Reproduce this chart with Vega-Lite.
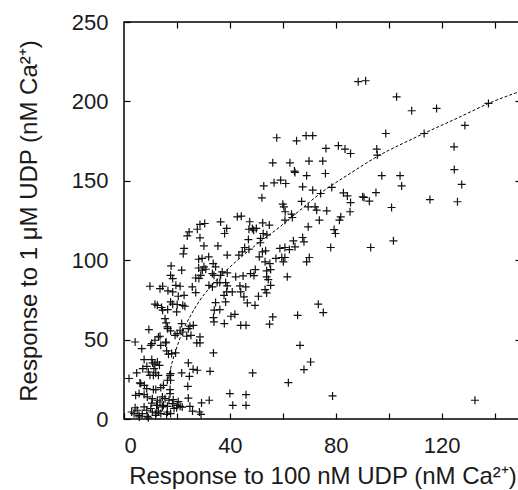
{
  "$schema": "https://vega.github.io/schema/vega-lite/v6.json",
  "width": 397,
  "height": 397,
  "autosize": {"type": "none"},
  "padding": {"left": 124, "top": 22, "right": 0, "bottom": 71},
  "background": "white",
  "config": {
    "view": {"stroke": "#000", "strokeWidth": 1.5},
    "font": "Liberation Sans",
    "axis": {
      "domain": false,
      "grid": false,
      "ticks": true,
      "tickSize": -6,
      "tickColor": "#000",
      "tickWidth": 1.2,
      "labelFont": "Liberation Sans",
      "labelFontSize": 22,
      "labelColor": "#1a1a1a",
      "titleFont": "Liberation Sans",
      "titleFontSize": 24,
      "titleFontWeight": "normal",
      "titleColor": "#1a1a1a"
    }
  },
  "layer": [
    {
      "data": {"values": [
        {"r100":88.5,"r1u":212.4},{"r100":91.3,"r1u":213.0},{"r100":103.0,"r1u":202.9},{"r100":108.7,"r1u":194.1},{"r100":118.1,"r1u":195.6},{"r100":137.7,"r1u":198.7},{"r100":128.8,"r1u":184.9},{"r100":98.9,"r1u":179.8},{"r100":113.4,"r1u":179.8},{"r100":57.7,"r1u":177.1},{"r100":68.8,"r1u":178.4},{"r100":71.3,"r1u":178.4},{"r100":65.2,"r1u":175.2},{"r100":76.3,"r1u":170.4},{"r100":81.0,"r1u":172.1},{"r100":83.5,"r1u":170.0},{"r100":85.6,"r1u":167.2},{"r100":95.5,"r1u":170.0},{"r100":95.7,"r1u":166.2},{"r100":124.7,"r1u":171.4},
        {"r100":56.2,"r1u":161.3},{"r100":62.7,"r1u":161.3},{"r100":69.9,"r1u":162.4},{"r100":75.1,"r1u":162.4},{"r100":64.4,"r1u":156.1},{"r100":64.6,"r1u":155.3},{"r100":76.1,"r1u":154.6},{"r100":69.0,"r1u":153.2},{"r100":97.4,"r1u":153.2},{"r100":104.3,"r1u":153.2},{"r100":124.8,"r1u":157.1},{"r100":52.8,"r1u":146.8},{"r100":56.7,"r1u":148.7},{"r100":59.2,"r1u":150.4},{"r100":61.1,"r1u":148.3},{"r100":67.5,"r1u":146.2},{"r100":71.3,"r1u":144.1},{"r100":74.3,"r1u":142.0},{"r100":78.5,"r1u":145.8},{"r100":82.9,"r1u":142.4},
        {"r100":84.4,"r1u":140.5},{"r100":90.2,"r1u":139.9},{"r100":90.7,"r1u":139.5},{"r100":92.7,"r1u":137.2},{"r100":95.2,"r1u":142.6},{"r100":104.9,"r1u":146.8},{"r100":101.1,"r1u":133.2},{"r100":115.6,"r1u":138.2},{"r100":127.6,"r1u":147.7},{"r100":126.0,"r1u":136.8},{"r100":52.1,"r1u":139.3},{"r100":60.0,"r1u":135.3},{"r100":60.4,"r1u":133.6},{"r100":60.9,"r1u":130.5},{"r100":67.1,"r1u":137.0},{"r100":69.6,"r1u":133.6},{"r100":72.2,"r1u":133.6},{"r100":72.8,"r1u":131.5},{"r100":76.6,"r1u":131.1},{"r100":85.6,"r1u":136.3},
        {"r100":85.4,"r1u":130.5},{"r100":81.9,"r1u":127.3},{"r100":81.4,"r1u":125.2},{"r100":60.8,"r1u":125.2},{"r100":63.3,"r1u":129.0},{"r100":63.6,"r1u":126.9},{"r100":73.8,"r1u":125.2},{"r100":69.6,"r1u":121.0},{"r100":79.4,"r1u":119.3},{"r100":79.9,"r1u":116.8},{"r100":93.2,"r1u":108.0},{"r100":101.8,"r1u":112.2},{"r100":78.1,"r1u":108.0},{"r100":67.5,"r1u":114.3},{"r100":68.0,"r1u":111.6},{"r100":64.0,"r1u":112.2},{"r100":64.6,"r1u":108.4},{"r100":62.5,"r1u":106.7},{"r100":60.8,"r1u":108.0},{"r100":58.9,"r1u":107.4},
        {"r100":60.8,"r1u":101.7},{"r100":60.2,"r1u":99.0},{"r100":59.6,"r1u":101.7},{"r100":57.4,"r1u":101.1},{"r100":55.1,"r1u":97.9},{"r100":69.0,"r1u":99.0},{"r100":70.0,"r1u":101.7},{"r100":61.7,"r1u":89.5},{"r100":73.4,"r1u":72.3},{"r100":75.3,"r1u":67.0},{"r100":65.6,"r1u":65.3},{"r100":66.5,"r1u":46.4},{"r100":70.5,"r1u":35.9},{"r100":68.0,"r1u":31.1},{"r100":62.1,"r1u":22.9},{"r100":78.8,"r1u":14.5},{"r100":132.6,"r1u":11.8},
        {"r100":42.8,"r1u":127.3},{"r100":44.3,"r1u":127.7},{"r100":36.5,"r1u":124.1},{"r100":30.5,"r1u":123.1},{"r100":28.7,"r1u":122.5},{"r100":27.7,"r1u":119.5},{"r100":24.6,"r1u":117.8},{"r100":23.9,"r1u":115.3},{"r100":28.7,"r1u":114.1},{"r100":38.8,"r1u":120.0},{"r100":38.0,"r1u":116.8},{"r100":47.2,"r1u":119.5},{"r100":48.5,"r1u":120.0},{"r100":47.5,"r1u":124.2},{"r100":30.2,"r1u":109.0},{"r100":35.5,"r1u":109.0},{"r100":45.6,"r1u":108.0},{"r100":44.7,"r1u":105.2},{"r100":43.4,"r1u":103.2},{"r100":47.2,"r1u":106.9},
        {"r100":39.0,"r1u":103.2},{"r100":28.2,"r1u":100.6},{"r100":29.5,"r1u":101.1},{"r100":32.0,"r1u":102.1},{"r100":28.2,"r1u":95.1},{"r100":30.2,"r1u":95.8},{"r100":30.9,"r1u":94.3},{"r100":33.7,"r1u":97.9},{"r100":34.6,"r1u":95.8},{"r100":33.4,"r1u":91.6},{"r100":34.0,"r1u":90.5},{"r100":29.6,"r1u":93.7},{"r100":29.0,"r1u":90.5},{"r100":37.1,"r1u":92.6},{"r100":36.5,"r1u":90.5},{"r100":39.0,"r1u":92.0},{"r100":42.2,"r1u":89.5},{"r100":45.0,"r1u":90.1},{"r100":47.8,"r1u":91.6},{"r100":27.1,"r1u":88.8},
        {"r100":28.3,"r1u":88.5},{"r100":25.8,"r1u":83.2},{"r100":27.1,"r1u":79.6},{"r100":32.1,"r1u":84.2},{"r100":35.2,"r1u":85.9},{"r100":36.2,"r1u":85.9},{"r100":33.4,"r1u":83.2},{"r100":38.4,"r1u":85.9},{"r100":39.0,"r1u":83.8},{"r100":40.9,"r1u":80.0},{"r100":38.8,"r1u":80.0},{"r100":37.8,"r1u":77.9},{"r100":43.8,"r1u":83.8},{"r100":46.0,"r1u":83.2},{"r100":44.1,"r1u":80.0},{"r100":34.6,"r1u":73.3},{"r100":38.4,"r1u":73.7},{"r100":45.3,"r1u":76.9},{"r100":46.6,"r1u":73.1},{"r100":47.0,"r1u":113.0},
        {"r100":49.0,"r1u":118.9},{"r100":50.0,"r1u":120.0},{"r100":52.4,"r1u":123.5},{"r100":54.9,"r1u":122.1},{"r100":52.6,"r1u":116.8},{"r100":51.6,"r1u":113.7},{"r100":54.0,"r1u":116.0},{"r100":51.5,"r1u":111.0},{"r100":52.3,"r1u":105.3},{"r100":53.5,"r1u":105.9},{"r100":51.1,"r1u":102.1},{"r100":53.3,"r1u":99.0},{"r100":55.4,"r1u":94.1},{"r100":53.9,"r1u":93.3},{"r100":49.6,"r1u":94.1},{"r100":49.1,"r1u":90.3},{"r100":53.9,"r1u":89.5},{"r100":54.5,"r1u":87.8},{"r100":55.4,"r1u":84.2},{"r100":53.3,"r1u":81.5},
        {"r100":53.9,"r1u":79.4},{"r100":50.8,"r1u":77.3},{"r100":49.5,"r1u":71.6},{"r100":56.2,"r1u":64.3},{"r100":55.0,"r1u":59.7},
        {"r100":36.2,"r1u":68.9},{"r100":34.1,"r1u":68.5},{"r100":33.8,"r1u":63.9},{"r100":34.0,"r1u":61.1},{"r100":37.9,"r1u":60.1},{"r100":33.8,"r1u":41.6},{"r100":32.5,"r1u":30.0},{"r100":32.2,"r1u":11.8},{"r100":44.1,"r1u":59.0},{"r100":46.1,"r1u":59.0},{"r100":40.4,"r1u":64.7},{"r100":41.9,"r1u":65.9},{"r100":40.0,"r1u":16.0},{"r100":41.1,"r1u":8.6},{"r100":46.1,"r1u":15.3},{"r100":46.1,"r1u":8.6},{"r100":48.6,"r1u":29.0},
        {"r100":21.8,"r1u":60.1},{"r100":21.2,"r1u":55.9},{"r100":22.2,"r1u":54.8},{"r100":24.3,"r1u":56.9},{"r100":24.9,"r1u":58.4},{"r100":26.2,"r1u":59.0},{"r100":23.7,"r1u":52.1},{"r100":25.3,"r1u":52.7},{"r100":28.7,"r1u":51.7},{"r100":27.5,"r1u":47.9},{"r100":28.7,"r1u":47.9},{"r100":24.3,"r1u":35.3},{"r100":26.1,"r1u":31.3},{"r100":27.7,"r1u":30.7},{"r100":21.8,"r1u":29.0},{"r100":24.7,"r1u":26.9},{"r100":24.1,"r1u":20.6},{"r100":24.3,"r1u":13.2},{"r100":24.9,"r1u":8.0},{"r100":25.9,"r1u":5.0},
        {"r100":29.3,"r1u":10.1},{"r100":28.5,"r1u":4.4},{"r100":29.1,"r1u":2.9},{"r100":19.9,"r1u":67.4},{"r100":22.2,"r1u":71.6},{"r100":23.0,"r1u":71.0},
        {"r100":1.9,"r1u":25.5},{"r100":4.4,"r1u":14.9},{"r100":5.7,"r1u":16.0},{"r100":7.6,"r1u":15.4},{"r100":8.8,"r1u":13.9},{"r100":10.7,"r1u":12.8},{"r100":12.6,"r1u":11.8},{"r100":14.5,"r1u":13.9},{"r100":17.0,"r1u":11.8},{"r100":18.3,"r1u":9.7},{"r100":20.1,"r1u":8.6},{"r100":21.2,"r1u":8.0},{"r100":18.9,"r1u":6.6},{"r100":16.4,"r1u":8.0},{"r100":14.5,"r1u":7.6},{"r100":12.6,"r1u":8.6},{"r100":10.1,"r1u":6.6},{"r100":7.6,"r1u":7.6},{"r100":5.0,"r1u":5.5},{"r100":3.8,"r1u":3.4},
        {"r100":5.7,"r1u":2.3},{"r100":6.9,"r1u":3.4},{"r100":8.8,"r1u":1.7},{"r100":10.7,"r1u":4.4},{"r100":12.0,"r1u":2.3},{"r100":13.9,"r1u":3.4},{"r100":16.4,"r1u":4.4},{"r100":17.6,"r1u":3.4},{"r100":4.2,"r1u":7.1},{"r100":8.6,"r1u":5.5},{"r100":9.2,"r1u":0.8},{"r100":5.8,"r1u":1.3},{"r100":2.9,"r1u":4.4},{"r100":6.0,"r1u":22.7},{"r100":7.7,"r1u":21.2},{"r100":8.6,"r1u":19.1},{"r100":11.1,"r1u":18.5},{"r100":14.9,"r1u":21.2},{"r100":17.4,"r1u":18.5},{"r100":17.4,"r1u":16.0},
        {"r100":15.5,"r1u":12.8},{"r100":18.6,"r1u":12.2},{"r100":13.6,"r1u":10.7},{"r100":12.3,"r1u":8.6},{"r100":14.9,"r1u":8.6},{"r100":19.9,"r1u":7.1},{"r100":13.0,"r1u":5.0},{"r100":16.1,"r1u":2.9},{"r100":12.1,"r1u":3.8},{"r100":6.3,"r1u":22.3},{"r100":12.0,"r1u":18.5},{"r100":13.9,"r1u":19.8},{"r100":16.4,"r1u":24.4},{"r100":17.6,"r1u":24.4},{"r100":10.5,"r1u":10.0},{"r100":20.5,"r1u":11.0},{"r100":22.0,"r1u":7.5},
        {"r100":4.2,"r1u":48.5},{"r100":6.7,"r1u":44.3},{"r100":9.4,"r1u":56.3},{"r100":9.8,"r1u":83.6},{"r100":10.5,"r1u":47.5},{"r100":11.7,"r1u":49.6},{"r100":7.6,"r1u":37.4},{"r100":4.8,"r1u":29.0},{"r100":7.1,"r1u":31.7},{"r100":8.6,"r1u":33.2},{"r100":9.2,"r1u":29.6},{"r100":10.5,"r1u":37.4},{"r100":10.8,"r1u":35.3},{"r100":9.8,"r1u":27.5},{"r100":11.7,"r1u":34.5},{"r100":13.4,"r1u":33.8},{"r100":11.3,"r1u":31.7},{"r100":11.1,"r1u":27.5},{"r100":13.0,"r1u":27.5},{"r100":17.6,"r1u":28.6},
        {"r100":12.6,"r1u":35.9},{"r100":12.0,"r1u":29.0},{"r100":17.4,"r1u":27.5},{"r100":13.0,"r1u":51.7},{"r100":13.9,"r1u":46.4},{"r100":15.9,"r1u":48.5},{"r100":16.1,"r1u":42.9},{"r100":16.8,"r1u":40.8},{"r100":18.0,"r1u":41.2},{"r100":19.5,"r1u":41.6},{"r100":15.5,"r1u":63.2},{"r100":15.9,"r1u":60.5},{"r100":16.5,"r1u":56.9},{"r100":17.6,"r1u":55.5},{"r100":19.3,"r1u":52.7},{"r100":20.1,"r1u":53.8},{"r100":16.4,"r1u":58.0},{"r100":10.1,"r1u":46.4},{"r100":13.6,"r1u":52.1},{"r100":15.7,"r1u":47.9},
        {"r100":11.7,"r1u":72.3},{"r100":12.6,"r1u":71.6},{"r100":14.2,"r1u":70.2},{"r100":14.6,"r1u":68.5},{"r100":16.5,"r1u":68.9},{"r100":17.6,"r1u":73.7},{"r100":18.4,"r1u":72.3},{"r100":20.1,"r1u":72.1},{"r100":14.6,"r1u":83.6},{"r100":13.6,"r1u":82.1},{"r100":16.6,"r1u":80.7},{"r100":18.4,"r1u":80.0},{"r100":17.8,"r1u":96.4},{"r100":17.6,"r1u":90.5},{"r100":18.4,"r1u":88.4},{"r100":19.6,"r1u":84.2},{"r100":21.2,"r1u":83.6},{"r100":20.5,"r1u":77.3},{"r100":22.7,"r1u":77.9},{"r100":21.8,"r1u":93.7},
        {"r100":22.7,"r1u":107.4},{"r100":22.4,"r1u":104.0}
      ]},
      "mark": {"type": "point", "shape": "M-1,0H1M0,-1V1", "size": 64, "filled": false, "stroke": "#111", "strokeWidth": 1.2, "opacity": 1},
      "encoding": {
        "x": {"field": "r100", "type": "quantitative", "scale": {"domain": [0, 150], "nice": false},
          "axis": {"orient": "bottom", "values": [0, 20, 40, 60, 80, 100, 120, 140], "labelExpr": "datum.value % 40 === 0 ? datum.label : ''", "labelPadding": 22, "title": "Response to 100 nM UDP (nM Ca²⁺)", "titlePadding": 8}},
        "y": {"field": "r1u", "type": "quantitative", "scale": {"domain": [0, 250], "nice": false},
          "axis": {"orient": "left", "values": [0, 50, 100, 150, 200, 250], "labelPadding": 22, "title": "Response to 1 μM UDP (nM Ca²⁺)", "titlePadding": 30}}
      }
    },
    {
      "data": {"values": [
        {"r100":16.8,"r1u":25.4},{"r100":18.4,"r1u":37.0},{"r100":19.6,"r1u":43.3},{"r100":21.8,"r1u":53.8},{"r100":24.9,"r1u":64.3},{"r100":28.7,"r1u":74.8},{"r100":33.8,"r1u":85.3},{"r100":40.1,"r1u":95.8},{"r100":48.9,"r1u":108.4},{"r100":58.9,"r1u":121.0},{"r100":66.5,"r1u":131.5},{"r100":74.1,"r1u":142.0},{"r100":85.4,"r1u":154.6},{"r100":95.5,"r1u":165.1},{"r100":110.6,"r1u":177.7},{"r100":127.0,"r1u":190.3},{"r100":137.7,"r1u":198.7},{"r100":150.0,"r1u":206.5}
      ]},
      "mark": {"type": "line", "strokeDash": [3, 2], "strokeWidth": 1, "color": "#000", "interpolate": "monotone"},
      "encoding": {
        "x": {"field": "r100", "type": "quantitative", "axis": {"orient": "top", "values": [20, 40, 60, 80, 100, 120, 140], "labels": false, "title": null}},
        "y": {"field": "r1u", "type": "quantitative", "axis": {"orient": "right", "values": [50, 100, 150, 200], "labels": false, "title": null}}
      }
    }
  ],
  "resolve": {"axis": {"x": "independent", "y": "independent"}}
}
